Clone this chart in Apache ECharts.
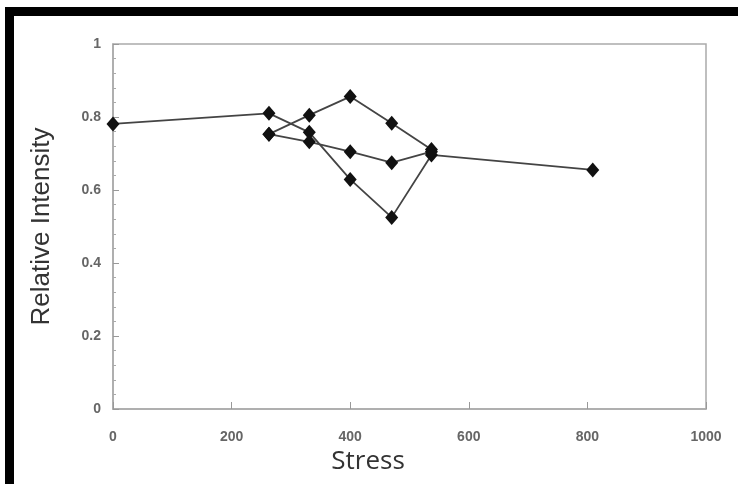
<!DOCTYPE html>
<html>
<head>
<meta charset="utf-8">
<script src="https://cdn.jsdelivr.net/npm/echarts@6/dist/echarts.min.js"></script>
<style>html,body{margin:0;padding:0;background:#fff;}#c{width:738px;height:484px;}</style>
</head>
<body>
<div id="c"></div>
<script>
// Data
const seriesA = [[0,0.781],[263,0.810],[331,0.758],[400,0.629],[470,0.525],[537,0.696],[809,0.655]];
const seriesB = [[263,0.753],[331,0.805],[400,0.856],[470,0.783],[537,0.711]];
const seriesC = [[263,0.753],[331,0.732],[400,0.705],[470,0.675],[537,0.705]];
const xTicks = [0,200,400,600,800,1000];
const yTicks = [0,0.2,0.4,0.6,0.8,1];
const xName = 'Stress';
const yName = 'Relative Intensity';

const chart = echarts.init(document.getElementById('c'), null, {renderer:'canvas'});
function mk(d){
  return {type:'line', data:d, symbol:'diamond', symbolSize:[13,15],
    itemStyle:{color:'#111'}, lineStyle:{color:'#444', width:1.8}, z:3};
}
chart.setOption({
  animation:false,
  backgroundColor:'#fff',
  grid:{left:113, top:44, right:32, bottom:75, show:true, borderColor:'#aaa', borderWidth:1.5},
  xAxis:{type:'value', min:0, max:1000, interval:200,
    name:xName, nameLocation:'middle', nameGap:40,
    nameTextStyle:{fontFamily:'Open Sans', fontSize:26, color:'#333', padding:[0,83,0,0]},
    axisLine:{show:true, onZero:false, lineStyle:{color:'#aaa', width:1.5}},
    axisTick:{show:true, inside:true, length:7, lineStyle:{color:'#999'}},
    axisLabel:{margin:21, fontFamily:'Liberation Sans', fontSize:14, fontWeight:'bold', color:'#666',
      formatter:v=>xTicks.includes(v)?String(v):''},
    splitLine:{show:false}},
  yAxis:{type:'value', min:0, max:1, interval:0.2,
    name:yName, nameLocation:'middle', nameGap:58,
    nameTextStyle:{fontFamily:'Liberation Sans', fontSize:26, color:'#333', padding:[0,0,0,0]},
    axisLine:{show:true, lineStyle:{color:'#aaa', width:1.5}},
    axisTick:{show:true, inside:true, length:6, lineStyle:{color:'#999'}},
    minorTick:{show:true, splitNumber:5, length:3, lineStyle:{color:'#aaa'}},
    axisLabel:{margin:12, fontFamily:'Liberation Sans', fontSize:14, fontWeight:'bold', color:'#666',
      formatter:v=>{const t=yTicks.find(k=>Math.abs(k-v)<1e-9); return t===undefined?'':String(t);}},
    splitLine:{show:false}},
  graphic:[
    {type:'rect', shape:{x:5,y:7,width:733,height:9}, style:{fill:'#000'}, z:10},
    {type:'rect', shape:{x:5,y:7,width:9,height:477}, style:{fill:'#000'}, z:10}
  ],
  series:[mk(seriesA), mk(seriesB), mk(seriesC)]
});
</script>
</body>
</html>
